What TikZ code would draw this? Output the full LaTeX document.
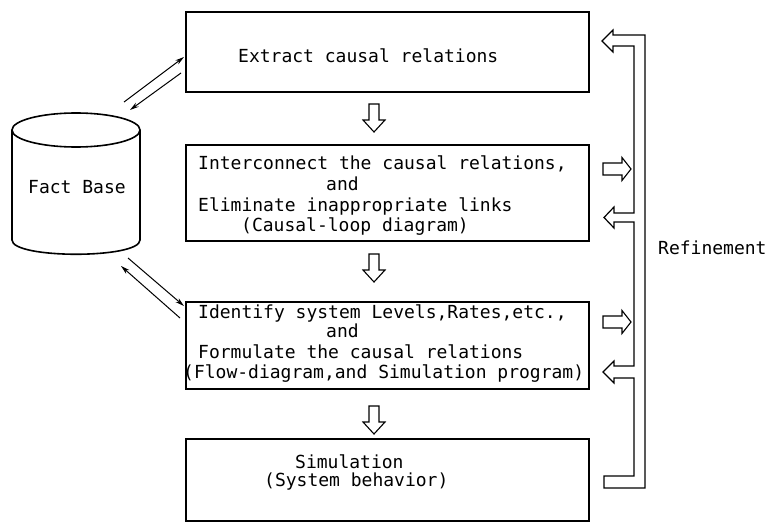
\documentclass[tikz,border=0pt]{standalone}
\usepackage{fontspec}
\setmonofont{DejaVu Sans Mono}
\usetikzlibrary{arrows.meta}
\tikzset{
  procbox/.style={draw, line width=1.6pt, minimum width=403pt, inner sep=0pt},
  txt/.style={anchor=base west, inner sep=0pt, font=\ttfamily\fontsize{18}{20}\selectfont},
  blockarrow/.style={draw, line width=1.1pt, fill=white, line join=miter},
  pipe/.style={draw, line width=1.2pt, fill=white, line join=miter},
  thinarrow/.style={line width=1pt, -{Stealth[length=9pt,width=5pt]}},
  dnarrow/.pic={\path[blockarrow] (-5,0) -- (5,0) -- (5,16) -- (11,16) -- (0,28) -- (-11,16) -- (-5,16) -- cycle;},
  rtarrow/.pic={\path[blockarrow] (0,-6) -- (19,-6) -- (19,-11.5) -- (28,0) -- (19,11.5) -- (19,6) -- (0,6) -- cycle;}
}
\begin{document}
\begin{tikzpicture}[x=1pt,y=-1pt]
\path[fill=white] (0,0) rectangle (768,524);
\useasboundingbox (0,0) rectangle (768,524);

% process boxes
\node[procbox, minimum height=80pt] (b1) at (387.5,52) {};
\node[procbox, minimum height=96pt] (b2) at (387.5,193) {};
\node[procbox, minimum height=87pt] (b3) at (387.5,345.5) {};
\node[procbox, minimum height=82pt] (b4) at (387.5,480) {};

% texts
\node[txt] (t1) at (238,63) {Extract causal relations};
\node[txt] (t2a) at (198,169) {Interconnect the causal relations,};
\node[txt] (t2b) at (326,190) {and};
\node[txt] (t2c) at (198,211) {Eliminate inappropriate links};
\node[txt] (t2d) at (241,231) {(Causal-loop diagram)};
\node[txt] (t3a) at (198,318) {Identify system Levels,Rates,etc.,};
\node[txt] (t3b) at (326,337) {and};
\node[txt] (t3c) at (198,358) {Formulate the causal relations};
\node[txt] (t3d) at (183,378) {(Flow-diagram,and Simulation program)};
\node[txt] (t4a) at (295,468) {Simulation};
\node[txt] (t4b) at (264,486) {(System behavior)};

% fact base cylinder
\draw[line width=1.6pt, fill=white] (12,130) -- (12,240) .. controls (12,259) and (140,259) .. (140,240) -- (140,130);
\draw[line width=1.6pt] (76,130) ellipse [x radius=64, y radius=17];
\node[txt] (fb) at (28,193) {Fact Base};

% arrows between fact base and boxes
\coordinate (a1s) at (124,102); \coordinate (a1e) at (184,57);
\coordinate (a2s) at (181,73);  \coordinate (a2e) at (130,110);
\coordinate (a3s) at (128,258); \coordinate (a3e) at (184,306);
\coordinate (a4s) at (180,318); \coordinate (a4e) at (121,266);
\draw[thinarrow] (a1s) -- (a1e);
\draw[thinarrow] (a2s) -- (a2e);
\draw[thinarrow] (a3s) -- (a3e);
\draw[thinarrow] (a4s) -- (a4e);

% block arrows between boxes
\pic at (374,104) {dnarrow};
\pic at (374,254) {dnarrow};
\pic at (374,406) {dnarrow};

% refinement feedback pipe
\path[pipe] (602,41) -- (613,30) -- (613,35) -- (645,35) -- (645,488) -- (604,488)
  -- (604,476) -- (634,476) -- (634,378) -- (614,378) -- (614,383) -- (603,372)
  -- (614,361) -- (614,366) -- (634,366) -- (634,222) -- (614,222) -- (614,228)
  -- (604,217.5) -- (614,207) -- (614,213) -- (634,213) -- (634,46) -- (613,46)
  -- (613,52) -- cycle;
\pic at (603,169) {rtarrow};
\pic at (603,322) {rtarrow};
\node[txt] (ref) at (658,254) {Refinement};
\end{tikzpicture}
\end{document}
